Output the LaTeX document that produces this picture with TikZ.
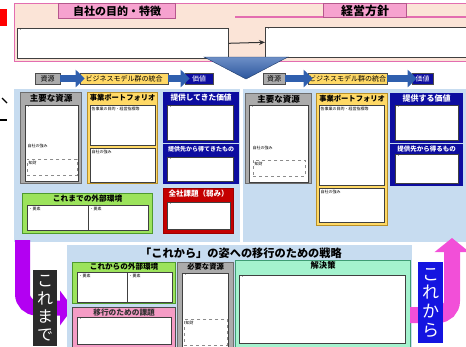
\documentclass[tikz,border=0pt]{standalone}
\usepackage{fontspec}
\setmainfont{Noto Sans CJK JP}
\usetikzlibrary{positioning,arrows.meta}

\definecolor{peach}{HTML}{FBE4D7}
\definecolor{rosa}{HTML}{E36DB0}
\definecolor{rosafill}{HTML}{F6A2CF}
\definecolor{paleblue}{HTML}{C7DCF0}
\definecolor{greyfill}{HTML}{ABABAB}
\definecolor{greyline}{HTML}{6E6E6E}
\definecolor{gold}{HTML}{FFD966}
\definecolor{goldline}{HTML}{B8902A}
\definecolor{navy}{HTML}{0D0DA0}
\definecolor{leaf}{HTML}{9CE35C}
\definecolor{leafline}{HTML}{4F9A2E}
\definecolor{crimson}{HTML}{C40000}
\definecolor{mint}{HTML}{A4F2CE}
\definecolor{mintline}{HTML}{3F9C74}
\definecolor{pinkfill}{HTML}{F59CC5}
\definecolor{purplearrow}{HTML}{B300F2}
\definecolor{fuchsia}{HTML}{F24FD8}
\definecolor{flowblue}{HTML}{2F5FAE}
\definecolor{brightblue}{HTML}{1414E0}
\definecolor{ink}{HTML}{2B2B2B}

\begin{document}
\begin{tikzpicture}[x=1pt, y=-1pt,
    card/.style={draw=#1, line width=1.2pt, inner sep=0pt, anchor=north west},
    wbox/.style={draw=black!75, fill=white, line width=0.6pt, inner sep=0pt, anchor=north west},
    dashbox/.style={draw=black!45, dashed, line width=0.6pt, inner sep=0pt, anchor=north west},
    hdr/.style={font=\bfseries\fontsize{#1}{#1}\selectfont, inner sep=0pt},
    hdr/.default=8,
    note/.style={font=\fontsize{4}{4}\selectfont, inner sep=1.5pt, anchor=north west},
    flow/.style={draw=black!70, line width=0.6pt, minimum height=11pt, inner sep=0pt, font=\fontsize{7}{7}\selectfont},
    flowarrow/.style={draw=flowblue, line width=6.5pt, -{Triangle[width=17pt,length=9pt]}, shorten >=-5pt},
    vtext/.style={text=white, align=center, inner sep=0pt, anchor=north west}]
  \useasboundingbox (0,0) rectangle (466,346);

  % CUT-OFF MARKS AT THE LEFT EDGE
  \fill[red] (0,9) rectangle (7,26);
  \draw[line width=1.3pt] (2,98) -- (7,103);
  \draw[line width=1.3pt] (0,120) -- (7,120);

  % PURPOSE AND POLICY
  \node[card=rosa, fill=peach, minimum width=456pt, minimum height=58pt] (topPanel) at (14,3) {};
  \draw[rosa, line width=1.2pt] (235,17) -- (470,17);
  \node[card=rosa!80!black, fill=rosafill, minimum width=117pt, minimum height=15pt, hdr=11] (purposeHdr) at (58,3) {自社の目的・特徴};
  \node[card=rosa!80!black, fill=rosafill, minimum width=83pt, minimum height=14pt, hdr=12] (policyHdr) at (323,3) {経営方針};
  \node[wbox, minimum width=211pt, minimum height=30pt] (purposeBox) at (17,28) {};
  \node[note] (purposeDot) at (purposeBox.north west) {・};
  \node[wbox, minimum width=205pt, minimum height=30pt] (policyBox) at (265,27) {};
  \node[note] (policyDot) at (policyBox.north west) {・};
  \draw[-{Stealth[length=6pt,width=5pt]}, line width=1pt, black!80] (purposeBox.east) -- (policyBox.west);
  \shade[top color=flowblue!70!white, bottom color=flowblue!90!black, draw=flowblue!60!black] (204,57) -- (288,57) -- (246,79) -- cycle;

  % FLOW ROWS
  \node[flow, fill=greyfill, minimum width=25pt] (srcL) at (47.5,78.5) {資源};
  \node[flow, fill=gold, minimum width=88pt] (bizL) at (124,78.5) {ビジネスモデル群の統合};
  \node[flow, fill=navy, text=white, minimum width=28pt] (valL) at (199,78.5) {価値};
  \node[flow, fill=greyfill, minimum width=22pt] (srcR) at (274,78.5) {資源};
  \node[flow, fill=gold, minimum width=79pt] (bizR) at (347.5,78.5) {ビジネスモデル群の統合};
  \node[flow, fill=navy, text=white, minimum width=21pt] (valR) at (422.5,78.5) {価値};
  \draw[flowarrow] (srcL.east) -- (bizL.west);
  \draw[flowarrow] (bizL.east) -- (valL.west);
  \draw[flowarrow] (srcR.east) -- (bizR.west);
  \draw[flowarrow] (bizR.east) -- (valR.west);

  % UNTIL NOW
  \fill[paleblue] (14,89) rectangle (240,242);
  \node[card=greyline, fill=greyfill, minimum width=61pt, minimum height=91pt] (resBoxL) at (20,92) {};
  \node[hdr=8.5, below=1.5pt of resBoxL.north] (resHdrL) {主要な資源};
  \node[wbox, minimum width=53pt, minimum height=76pt] (resInL) at (25,105) {};
  \node[note] (resDotL) at (resInL.north west) {・};
  \node[note] (resStrL) at (26,142) {自社の強み};
  \node[dashbox, minimum width=50pt, minimum height=16pt] (ipBoxL) at (27,159) {};
  \node[note] (ipL) at (ipBoxL.north west) {知財};

  \node[card=goldline, fill=gold, minimum width=70pt, minimum height=91pt] (pfBoxL) at (87,92) {};
  \node[hdr=7.3, below=1.5pt of pfBoxL.north] (pfHdrL) {事業ポートフォリオ};
  \node[wbox, minimum width=65pt, minimum height=40pt] (pfInL) at (90,105) {};
  \node[note] (pfTxtL) at (pfInL.north west) {各事業の目的・経営指標等};
  \node[wbox, minimum width=65pt, minimum height=34pt] (pfStrBoxL) at (90,148) {};
  \node[note] (pfStrL) at (pfStrBoxL.north west) {自社の強み};

  \node[card=navy, fill=navy, minimum width=75pt, minimum height=50pt] (valBoxL) at (163,92) {};
  \node[hdr=7.7, text=white, below=1.5pt of valBoxL.north] (valHdrL) {提供してきた価値};
  \node[wbox, minimum width=66pt, minimum height=35pt] (valInL) at (167,105) {};
  \node[note] (valDotL) at (valInL.north west) {・};
  \node[card=navy, fill=navy, minimum width=75pt, minimum height=39pt] (getBoxL) at (163,144) {};
  \node[hdr=6, text=white, below=2pt of getBoxL.north] (getHdrL) {提供先から得てきたもの};
  \node[wbox, minimum width=66pt, minimum height=24pt] (getInL) at (167,157) {};
  \node[note] (getDotL) at (getInL.north west) {・};

  \node[card=leafline, fill=leaf, minimum width=130pt, minimum height=40pt] (envBoxL) at (22,193) {};
  \node[hdr=7.7, below=1.5pt of envBoxL.north] (envHdrL) {これまでの外部環境};
  \node[wbox, minimum width=61pt, minimum height=25pt] (envAL) at (27,205) {};
  \node[note] (envATxtL) at (envAL.north west) {・要素};
  \node[wbox, minimum width=60pt, minimum height=25pt] (envBL) at (88,205) {};
  \node[note] (envBTxtL) at (envBL.north west) {・要素};

  \node[card=crimson!80!black, fill=crimson, minimum width=70pt, minimum height=45pt] (issueBox) at (163,188) {};
  \node[hdr=7.5, text=white, below=1.5pt of issueBox.north] (issueHdr) {全社課題（弱み）};
  \node[wbox, minimum width=63pt, minimum height=27pt] (issueIn) at (167,202) {};
  \node[note] (issueDot) at (issueIn.north west) {・};

  % FROM NOW ON
  \fill[paleblue] (243,89) rectangle (470,242);
  \node[card=greyline, fill=greyfill, minimum width=66pt, minimum height=90pt] (resBoxR) at (245,93) {};
  \node[hdr=8.5, below=1.5pt of resBoxR.north] (resHdrR) {主要な資源};
  \node[wbox, minimum width=59pt, minimum height=77pt] (resInR) at (249,105) {};
  \node[note] (resDotR) at (resInR.north west) {・};
  \node[note] (resStrR) at (251,144) {自社の強み};
  \node[dashbox, minimum width=52pt, minimum height=16pt] (ipBoxR) at (253,160) {};
  \node[note] (ipR) at (ipBoxR.north west) {知財};

  \node[card=goldline, fill=gold, minimum width=71pt, minimum height=132pt] (pfBoxR) at (316,93) {};
  \node[hdr=7.3, below=1.5pt of pfBoxR.north] (pfHdrR) {事業ポートフォリオ};
  \node[wbox, minimum width=65pt, minimum height=80pt] (pfInR) at (319,105) {};
  \node[note] (pfTxtR) at (pfInR.north west) {各事業の目的・経営指標等};
  \node[wbox, minimum width=65pt, minimum height=34pt] (pfStrBoxR) at (319,188) {};
  \node[note] (pfStrR) at (pfStrBoxR.north west) {自社の強み};

  \node[card=navy, fill=navy, minimum width=72pt, minimum height=49pt] (valBoxR) at (390,93) {};
  \node[hdr=8, text=white, below=1.5pt of valBoxR.north] (valHdrR) {提供する価値};
  \node[wbox, minimum width=63pt, minimum height=35pt] (valInR) at (395,105) {};
  \node[note] (valDotR) at (valInR.north west) {・};
  \node[card=navy, fill=navy, minimum width=72pt, minimum height=41pt] (getBoxR) at (390,144) {};
  \node[hdr=6.5, text=white, below=1.5pt of getBoxR.north] (getHdrR) {提供先から得るもの};
  \node[wbox, minimum width=63pt, minimum height=29pt] (getInR) at (395,154) {};
  \node[note] (getDotR) at (getInR.north west) {・};

  % TRANSITION STRATEGY
  \coordinate (pastTop) at (22.5,240);
  \coordinate (pastEnd) at (73,308);
  \draw[purplearrow, line width=15pt, rounded corners=14pt, -{Triangle[width=34pt,length=13pt]}] (pastTop) -- (22.5,308) -- (pastEnd);
  \node[fill=ink, minimum width=24pt, minimum height=76pt, vtext, font=\fontsize{16}{17.7}\selectfont] (pastTag) at (33,270) {こ\\れ\\ま\\で};

  \fill[paleblue] (67,245) rectangle (412,350);
  \node[hdr=11.2] (strategyTitle) at (241,253) {「これから」の姿への移行のための戦略};

  \node[card=leafline, fill=leaf, minimum width=103pt, minimum height=41pt] (envBoxB) at (72,262) {};
  \node[hdr=7.6, below=1pt of envBoxB.north] (envHdrB) {これからの外部環境};
  \node[wbox, minimum width=50pt, minimum height=30pt] (envAB) at (77,272) {};
  \node[note] (envATxtB) at (envAB.north west) {・要素};
  \node[wbox, minimum width=45pt, minimum height=30pt] (envBB) at (127,272) {};
  \node[note] (envBTxtB) at (envBB.north west) {・要素};

  \node[card=black!70, fill=pinkfill, minimum width=103pt, minimum height=45pt] (moveBox) at (72,307) {};
  \node[hdr=7.7, text=black!80, below=1.5pt of moveBox.north] (moveHdr) {移行のための課題};
  \node[wbox, minimum width=94pt, minimum height=27pt] (moveIn) at (77,317) {};
  \node[note] (moveDot) at (moveIn.north west) {・};

  \node[card=greyline, fill=greyfill, minimum width=56pt, minimum height=90pt] (needBox) at (177,262) {};
  \node[hdr=7.3, below=1pt of needBox.north] (needHdr) {必要な資源};
  \node[wbox, minimum width=46pt, minimum height=76pt] (needIn) at (182,273) {};
  \node[note] (needDot) at (needIn.north west) {・};
  \node[dashbox, minimum width=43pt, minimum height=26pt] (ipBoxB) at (184,319) {};
  \node[note] (ipB) at (ipBoxB.north west) {知財};

  \node[card=mintline, fill=mint, minimum width=175pt, minimum height=90pt] (solveBox) at (235,260) {};
  \node[hdr=8.3, below=1.5pt of solveBox.north] (solveHdr) {解決策};
  \node[wbox, minimum width=166pt, minimum height=68pt] (solveIn) at (239,275) {};
  \node[note] (solveDot) at (solveIn.north west) {・};

  \coordinate (futStart) at (410,315);
  \coordinate (futTop) at (452,238);
  \draw[fuchsia, line width=16pt, rounded corners=14pt, -{Triangle[width=34pt,length=14pt]}] (futStart) -- (452,315) -- (futTop);
  \node[fill=brightblue, minimum width=25pt, minimum height=81pt, vtext, font=\fontsize{17}{18.7}\selectfont] (futTag) at (418,262) {こ\\れ\\か\\ら};
\end{tikzpicture}
\end{document}
